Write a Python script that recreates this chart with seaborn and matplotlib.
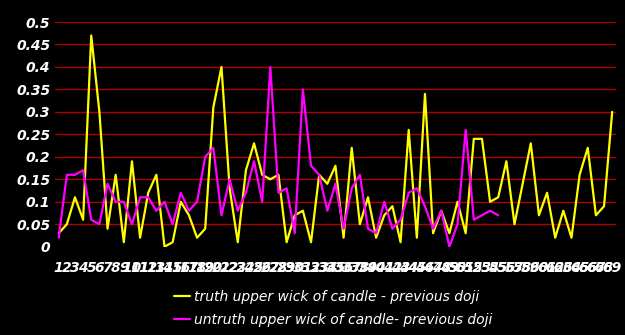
import numpy as np
import pandas as pd
import matplotlib
matplotlib.use("Agg")
import matplotlib.pyplot as plt
import seaborn as sns
from matplotlib.lines import Line2D

categories = list(range(1, 70))
tick_labels = [str(c) for c in categories]

truth = [0.03, 0.05, 0.11, 0.06, 0.47, 0.30, 0.04, 0.16, 0.01, 0.19,
         0.02, 0.12, 0.16, 0.00, 0.01, 0.10, 0.07, 0.02, 0.04, 0.31,
         0.40, 0.13, 0.01, 0.17, 0.23, 0.16, 0.15, 0.16, 0.01, 0.07,
         0.08, 0.01, 0.16, 0.14, 0.18, 0.02, 0.22, 0.05, 0.11, 0.02,
         0.07, 0.09, 0.01, 0.26, 0.02, 0.34, 0.03, 0.08, 0.03, 0.10,
         0.03, 0.24, 0.24, 0.10, 0.11, 0.19, 0.05, 0.14, 0.23, 0.07,
         0.12, 0.02, 0.08, 0.02, 0.16, 0.22, 0.07, 0.09, 0.30]

untruth = [0.02, 0.16, 0.16, 0.17, 0.06, 0.05, 0.14, 0.10, 0.10, 0.05,
           0.11, 0.11, 0.08, 0.10, 0.05, 0.12, 0.08, 0.10, 0.20, 0.22,
           0.07, 0.15, 0.08, 0.12, 0.19, 0.10, 0.40, 0.12, 0.13, 0.03,
           0.35, 0.18, 0.16, 0.08, 0.14, 0.04, 0.13, 0.16, 0.04, 0.03,
           0.10, 0.04, 0.06, 0.12, 0.13, 0.09, 0.04, 0.08, 0.00, 0.05,
           0.26, 0.06, 0.07, 0.08, 0.07]

series_names = ["truth upper wick of candle - previous doji",
                "untruth upper wick of candle- previous doji"]
colors = ["#ffff00", "#ff00ff"]
y_ticks = [0, 0.05, 0.1, 0.15, 0.2, 0.25, 0.3, 0.35, 0.4, 0.45, 0.5]
y_tick_labels = ["0", "0.05", "0.1", "0.15", "0.2", "0.25", "0.3", "0.35", "0.4", "0.45", "0.5"]

df = pd.concat([
    pd.DataFrame({"x": categories[:len(truth)], "value": truth, "series": series_names[0]}),
    pd.DataFrame({"x": categories[:len(untruth)], "value": untruth, "series": series_names[1]}),
], ignore_index=True)

sns.set_style("dark")
plt.rcParams["font.family"] = ["DejaVu Sans"]

fig = plt.figure(figsize=(6.25, 3.35), dpi=100, facecolor="black")
ax = fig.add_axes([0.0874, 0.2636, 0.8986, 0.6707])
ax.set_facecolor("black")

sns.lineplot(data=df, x="x", y="value", hue="series", palette=colors,
             hue_order=series_names, linewidth=1.6, ax=ax, legend=False,
             estimator=None, sort=False)

ax.set_xlim(0.5, 69.5)
ax.set_ylim(0, 0.5)
ax.set_yticks(y_ticks)
ax.set_yticklabels(y_tick_labels)
ax.set_xticks(categories)
ax.set_xticklabels(tick_labels)
for lab in ax.get_xticklabels() + ax.get_yticklabels():
    lab.set_color("white")
    lab.set_fontweight("bold")
    lab.set_fontstyle("italic")
    lab.set_fontsize(10)
ax.tick_params(axis="both", length=0)
ax.tick_params(axis="x", pad=10)
ax.tick_params(axis="y", pad=3)
ax.set_xlabel("")
ax.set_ylabel("")
for s in ax.spines.values():
    s.set_visible(False)

ax.grid(False)
ax.yaxis.grid(True, color="#b00000", linewidth=1.0)
ax.set_axisbelow(True)
ax.yaxis.get_gridlines()[0].set_visible(False)

handles = [Line2D([0], [0], color=c, linewidth=1.6) for c in colors]
leg = fig.legend(handles, series_names, loc="upper left",
                 bbox_to_anchor=(0.261, 0.168), frameon=False,
                 handlelength=1.15, handletextpad=0.3, labelspacing=0.65,
                 borderpad=0.3, prop={"style": "italic", "size": 10})
for t in leg.get_texts():
    t.set_color("white")

fig.savefig("out.png", dpi=100, facecolor="black")
